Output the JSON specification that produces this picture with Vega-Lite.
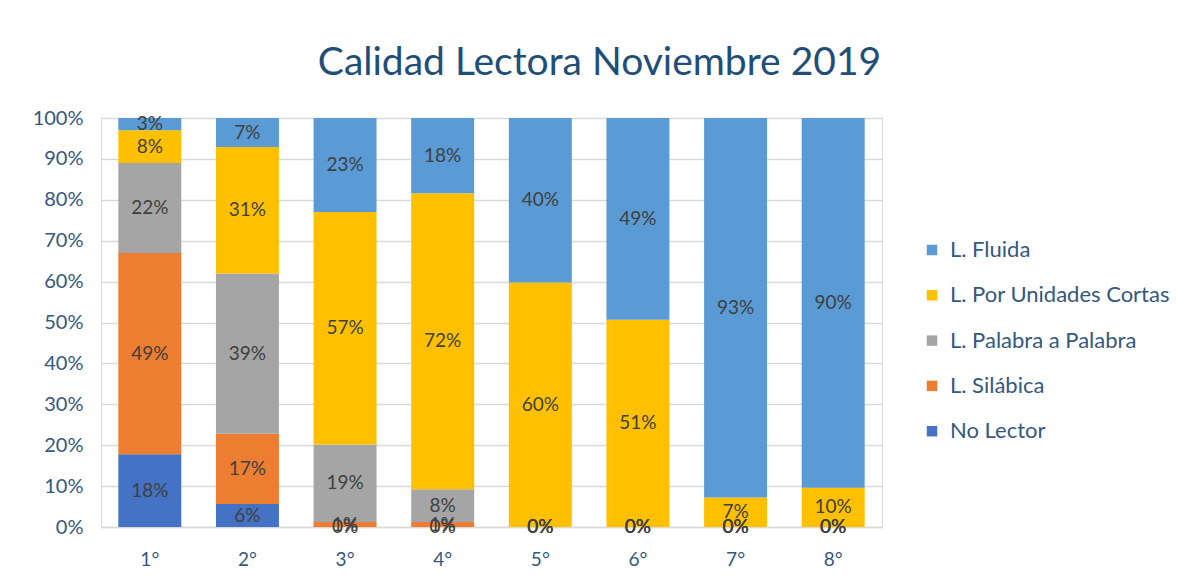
{
  "$schema": "https://vega.github.io/schema/vega-lite/v6.json",
  "width": 781,
  "height": 409,
  "autosize": "none",
  "padding": {"left": 101, "top": 118, "right": 295, "bottom": 50},
  "background": "white",
  "title": {
    "text": "Calidad Lectora Noviembre 2019",
    "font": "Lato",
    "fontSize": 39,
    "fontWeight": "normal",
    "color": "#1F4E79",
    "anchor": "middle",
    "frame": "group",
    "dx": 108,
    "offset": 25
  },
  "data": {
    "values": [
      {"curso": "1°", "serie": "No Lector", "valor": 0.178},
      {"curso": "1°", "serie": "L. Silábica", "valor": 0.492},
      {"curso": "1°", "serie": "L. Palabra a Palabra", "valor": 0.22},
      {"curso": "1°", "serie": "L. Por Unidades Cortas", "valor": 0.08},
      {"curso": "1°", "serie": "L. Fluida", "valor": 0.03},
      {"curso": "2°", "serie": "No Lector", "valor": 0.056},
      {"curso": "2°", "serie": "L. Silábica", "valor": 0.172},
      {"curso": "2°", "serie": "L. Palabra a Palabra", "valor": 0.392},
      {"curso": "2°", "serie": "L. Por Unidades Cortas", "valor": 0.309},
      {"curso": "2°", "serie": "L. Fluida", "valor": 0.071},
      {"curso": "3°", "serie": "No Lector", "valor": 0},
      {"curso": "3°", "serie": "L. Silábica", "valor": 0.012},
      {"curso": "3°", "serie": "L. Palabra a Palabra", "valor": 0.19},
      {"curso": "3°", "serie": "L. Por Unidades Cortas", "valor": 0.568},
      {"curso": "3°", "serie": "L. Fluida", "valor": 0.23},
      {"curso": "4°", "serie": "No Lector", "valor": 0},
      {"curso": "4°", "serie": "L. Silábica", "valor": 0.012},
      {"curso": "4°", "serie": "L. Palabra a Palabra", "valor": 0.08},
      {"curso": "4°", "serie": "L. Por Unidades Cortas", "valor": 0.724},
      {"curso": "4°", "serie": "L. Fluida", "valor": 0.184},
      {"curso": "5°", "serie": "No Lector", "valor": 0},
      {"curso": "5°", "serie": "L. Silábica", "valor": 0},
      {"curso": "5°", "serie": "L. Palabra a Palabra", "valor": 0},
      {"curso": "5°", "serie": "L. Por Unidades Cortas", "valor": 0.598},
      {"curso": "5°", "serie": "L. Fluida", "valor": 0.402},
      {"curso": "6°", "serie": "No Lector", "valor": 0},
      {"curso": "6°", "serie": "L. Silábica", "valor": 0},
      {"curso": "6°", "serie": "L. Palabra a Palabra", "valor": 0},
      {"curso": "6°", "serie": "L. Por Unidades Cortas", "valor": 0.507},
      {"curso": "6°", "serie": "L. Fluida", "valor": 0.493},
      {"curso": "7°", "serie": "No Lector", "valor": 0},
      {"curso": "7°", "serie": "L. Silábica", "valor": 0},
      {"curso": "7°", "serie": "L. Palabra a Palabra", "valor": 0},
      {"curso": "7°", "serie": "L. Por Unidades Cortas", "valor": 0.072},
      {"curso": "7°", "serie": "L. Fluida", "valor": 0.928},
      {"curso": "8°", "serie": "No Lector", "valor": 0},
      {"curso": "8°", "serie": "L. Silábica", "valor": 0},
      {"curso": "8°", "serie": "L. Palabra a Palabra", "valor": 0},
      {"curso": "8°", "serie": "L. Por Unidades Cortas", "valor": 0.096},
      {"curso": "8°", "serie": "L. Fluida", "valor": 0.904}
    ]
  },
  "transform": [
    {"calculate": "indexof(['No Lector','L. Silábica','L. Palabra a Palabra','L. Por Unidades Cortas','L. Fluida'], datum.serie)", "as": "orden"},
    {"stack": "valor", "groupby": ["curso"], "sort": [{"field": "orden", "order": "ascending"}], "offset": "normalize", "as": ["y0", "y1"]},
    {"calculate": "(datum.y0 + datum.y1) / 2", "as": "ymid"}
  ],
  "encoding": {
    "x": {
      "field": "curso",
      "type": "nominal",
      "sort": ["1°", "2°", "3°", "4°", "5°", "6°", "7°", "8°"],
      "scale": {"paddingInner": 0.355, "paddingOuter": 0.1775},
      "axis": {
        "title": null,
        "labelAngle": 0,
        "labelFont": "Lato",
        "labelFontSize": 19,
        "labelColor": "#34587F",
        "labelPadding": 23,
        "ticks": false,
        "domainColor": "#D9D9D9",
        "domainWidth": 1.5
      }
    }
  },
  "layer": [
    {
      "mark": {"type": "bar"},
      "encoding": {
        "y": {
          "field": "y0",
          "type": "quantitative",
          "scale": {"domain": [0, 1]},
          "axis": {
            "title": null,
            "format": ".0%",
            "values": [0, 0.1, 0.2, 0.3, 0.4, 0.5, 0.6, 0.7, 0.8, 0.9, 1],
            "labelFont": "Lato",
            "labelFontSize": 20,
            "labelColor": "#34587F",
            "labelPadding": 18,
            "ticks": false,
            "domain": false,
            "gridColor": "#D9D9D9",
            "gridWidth": 1.5
          }
        },
        "y2": {"field": "y1"},
        "color": {
          "field": "serie",
          "type": "nominal",
          "scale": {
            "domain": ["L. Fluida", "L. Por Unidades Cortas", "L. Palabra a Palabra", "L. Silábica", "No Lector"],
            "range": ["#5B9BD5", "#FFC000", "#A5A5A5", "#ED7D31", "#4472C4"]
          },
          "legend": {
            "title": null,
            "orient": "none",
            "legendX": 820,
            "legendY": 121,
            "symbolType": "square",
            "symbolSize": 110,
            "symbolStrokeWidth": 0,
            "labelFont": "Lato",
            "labelFontSize": 22,
            "labelColor": "#34587F",
            "rowPadding": 23.3,
            "labelLimit": 300,
            "labelOffset": 7,
            "padding": 0,
            "values": ["L. Fluida", "L. Por Unidades Cortas", "L. Palabra a Palabra", "L. Silábica", "No Lector"]
          }
        }
      }
    },
    {
      "mark": {"type": "text", "font": "Lato", "fontSize": 19, "color": "#404040", "baseline": "middle"},
      "encoding": {
        "y": {"field": "ymid", "type": "quantitative"},
        "text": {"field": "valor", "type": "quantitative", "format": ".0%"}
      }
    }
  ]
}
